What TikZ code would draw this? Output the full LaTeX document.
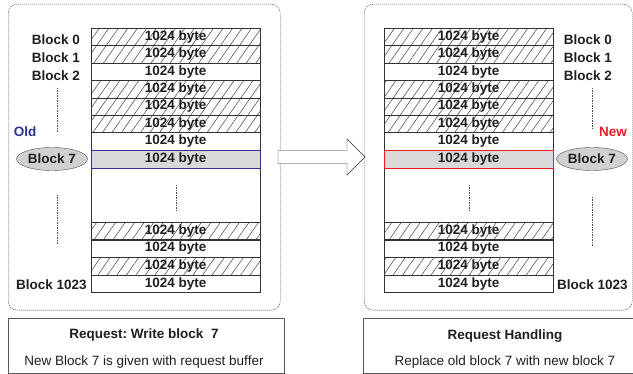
\documentclass[tikz,border=0pt]{standalone}
\usepackage{fontspec}
\setmainfont{Liberation Sans}
\usepackage{tikz}
\usetikzlibrary{positioning,shapes.geometric,patterns.meta}

\definecolor{oldblue}{RGB}{46,49,146}
\definecolor{newred}{RGB}{237,28,36}

\begin{document}
\begin{tikzpicture}[x=1pt,y=-1pt,node distance=0pt,font=\fontsize{13.5}{16}\selectfont,text=black!88]
		\tikzstyle{panel}=[rectangle, draw=black!75, dash pattern=on 1.2pt off 0.8pt, rounded corners=9pt, inner sep=0pt]
		\tikzstyle{request}=[rectangle, draw=black!65, thick, inner sep=0pt]
		\tikzstyle{blk}=[rectangle, draw=black!80, fill=white, minimum width=169pt, minimum height=17.4pt, inner sep=0pt, font=\fontsize{13.5}{16}\selectfont\bfseries]
		\tikzstyle{used}=[blk, pattern={Lines[angle=55,distance=7.8pt,line width=0.5pt]}, pattern color=black!75]
		\tikzstyle{label}=[font=\fontsize{13.5}{16}\selectfont\bfseries, inner sep=0pt]
		\tikzstyle{oval}=[ellipse, draw=black!70, fill=black!18, minimum width=71pt, minimum height=23pt, inner sep=0pt, font=\fontsize{13.5}{16}\selectfont\bfseries]
		\tikzstyle{dots}=[draw=black!70, dash pattern=on 1.5pt off 1pt]
		\useasboundingbox (0,0) rectangle (633,374);

		% panels
		\node [panel, minimum width=272pt, minimum height=306pt, anchor=north west] (lpanel) at (8,4) {};
		\node [panel, minimum width=268pt, minimum height=306pt, anchor=north west] (rpanel) at (364,4) {};

		% left memory
		\foreach \i/\s in {0/used,1/used,2/blk,3/used,4/used,5/used,6/blk}
			\node [\s, anchor=north west] (lb\i) at (91,28+17.4*\i) {1024 byte};
		\node [blk, fill=black!15, anchor=north] (lb7) at (lb6.south) {1024 byte};
		\node [blk, minimum height=54pt, anchor=north] (lgap) at (lb7.south) {};
		\draw [draw=oldblue] (lb7.north west) rectangle (lb7.south east);
		\foreach \i/\s in {0/used,1/blk,2/used,3/blk}
			\node [\s, anchor=north west] (lb102\i) at (91,222+17.6*\i) {1024 byte};
		\draw [dots] ([yshift=-17pt]lgap.north) -- ([yshift=10pt]lgap.south);

		% left labels
		\node [label] (lbl0) at (56,39.5) {Block 0};
		\node [label] (lbl1) at (56,58) {Block 1};
		\node [label] (lbl2) at (56,76) {Block 2};
		\node [label, text=oldblue] (old) at (25,132) {Old};
		\node [oval] (lbl7) at (52,159) {Block 7};
		\node [label] (lbl1023) at (51.5,285) {Block 1023};
		\coordinate (ld1) at (57,88);
		\coordinate (ld2) at (57,132);
		\coordinate (ld3) at (57,195);
		\coordinate (ld4) at (57,245);
		\draw [dots] (ld1) -- (ld2);
		\draw [dots] (ld3) -- (ld4);

		% right memory
		\foreach \i/\s in {0/used,1/used,2/blk,3/used,4/used,5/used,6/blk}
			\node [\s, anchor=north west] (rb\i) at (384,28+17.4*\i) {1024 byte};
		\node [blk, fill=black!15, anchor=north] (rb7) at (rb6.south) {1024 byte};
		\node [blk, minimum height=54pt, anchor=north] (rgap) at (rb7.south) {};
		\draw [draw=newred] (rb7.north west) rectangle (rb7.south east);
		\foreach \i/\s in {0/used,1/blk,2/used,3/blk}
			\node [\s, anchor=north west] (rb102\i) at (384,222+17.6*\i) {1024 byte};
		\draw [dots] ([yshift=-17pt]rgap.north) -- ([yshift=10pt]rgap.south);

		% right labels
		\node [label] (rbl0) at (588,39.5) {Block 0};
		\node [label] (rbl1) at (588,58) {Block 1};
		\node [label] (rbl2) at (588,76) {Block 2};
		\node [label, text=newred] (new) at (613,132) {New};
		\node [oval] (rbl7) at (592,159) {Block 7};
		\node [label] (rbl1023) at (592.5,285) {Block 1023};
		\coordinate (rd1) at (592,88);
		\coordinate (rd2) at (592,130);
		\coordinate (rd3) at (592,197);
		\coordinate (rd4) at (592,247);
		\draw [dots] (rd1) -- (rd2);
		\draw [dots] (rd3) -- (rd4);

		% arrow between the panels
		\coordinate (tail) at (278,157);
		\draw [draw=black!85, fill=white] (tail) ++(0,-6.5) -- ++(69,0) -- ++(0,-11.5) -- (365,157) -- (347,175) -- ++(0,-11.5) -- ++(-69,0) -- cycle;

		% requests
		\node [request, minimum width=276pt, minimum height=55pt, anchor=north west] (lreq) at (8,318) {};
		\node [label] (lreqtitle) at (144,335) {Request:\ Write block\ \ 7};
		\node [inner sep=0pt] (lreqtext) at (144,362) {New Block 7 is given with request buffer};
		\node [request, minimum width=275pt, minimum height=55pt, anchor=north west] (rreq) at (363,318) {};
		\node [label] (rreqtitle) at (505,336) {Request Handling};
		\node [inner sep=0pt] (rreqtext) at (505,362) {Replace old block 7 with new block 7};
	\end{tikzpicture}
\end{document}
